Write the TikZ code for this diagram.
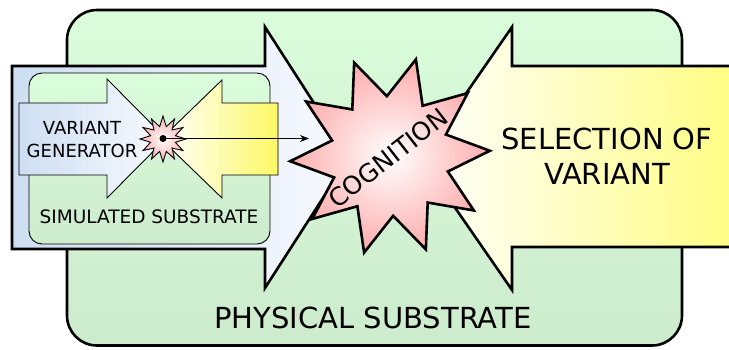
\documentclass[tikz,border=0pt]{standalone}
\usepackage{fontspec}
\setmainfont{DejaVu Sans}
\usetikzlibrary{shapes.geometric,arrows.meta}

\definecolor{leafhi}{RGB}{218,253,219}
\definecolor{leaflo}{RGB}{205,235,205}
\definecolor{skyblue}{RGB}{206,222,242}
\definecolor{paleblue}{RGB}{248,250,255}
\definecolor{lemon}{RGB}{255,253,128}
\definecolor{lemondeep}{RGB}{252,248,100}
\definecolor{rosy}{RGB}{255,172,172}

\begin{document}
\begin{tikzpicture}[x=1pt,y=-1pt,
    bigline/.style={line width=2.6pt,line join=miter},
    smallline/.style={line width=0.9pt},
    substrate/.style={top color=leafhi,bottom color=leaflo},
    spiky/.style={star,draw,inner sep=0pt,inner color=white,outer color=rosy}]
  \useasboundingbox (0,0) rectangle (729,349);
  % physical substrate
  \draw[bigline,substrate,rounded corners=30pt] (67,10) rectangle (682,345.5);
  % big arrows
  \draw[bigline,left color=skyblue,right color=paleblue] (12,66) -- (265,66) -- (265,27)
    -- (349,157.5) -- (265,288) -- (265,249) -- (12,249) -- cycle;
  \draw[bigline,left color=white,right color=lemon] (740,66) -- (512,66) -- (512,27)
    -- (421,158.5) -- (512,290) -- (512,247) -- (740,247) -- cycle;
  \node[spiky,bigline,star points=10,star point ratio=1.67,minimum size=200pt,
    shape border rotate=-15] (cog) at (390,156) {};
  \node[rotate=38,font=\fontsize{25}{30}\selectfont] (cogtext) at (388,158) {COGNITION};
  % simulated substrate
  \draw[smallline,substrate,rounded corners=13pt] (29,73) rectangle (270,244);
  \draw[smallline,left color=skyblue,right color=paleblue] (19,103) -- (107,103) -- (107,79)
    -- (166,138.5) -- (107,198) -- (107,175) -- (19,175) -- cycle;
  \draw[smallline,left color=white,right color=lemondeep] (278,103) -- (222,103) -- (222,80)
    -- (161,139) -- (222,198) -- (222,175) -- (278,175) -- cycle;
  \node[spiky,smallline,star points=12,star point ratio=1.8,minimum size=46pt] (spark) at (163,139) {};
  \node[circle,fill,inner sep=0pt,minimum size=7pt] (dot) at (163,138.5) {};
  \coordinate (aim) at (309,138.5);
  \draw[smallline,-{Stealth[length=9pt,width=7pt,inset=3pt]}] (dot.center) -- (aim);
  % labels
  \node[align=center,font=\fontsize{18}{23}\selectfont] (vargen) at (82,140) {VARIANT\\GENERATOR};
  \node[font=\fontsize{18.5}{22}\selectfont] (simsub) at (149,216.5) {SIMULATED SUBSTRATE};
  \node[font=\fontsize{29}{34}\selectfont] (physub) at (373,318) {PHYSICAL SUBSTRATE};
  \node[align=center,font=\fontsize{29}{35}\selectfont] (selvar) at (607,156.5) {SELECTION OF\\VARIANT};
\end{tikzpicture}
\end{document}
